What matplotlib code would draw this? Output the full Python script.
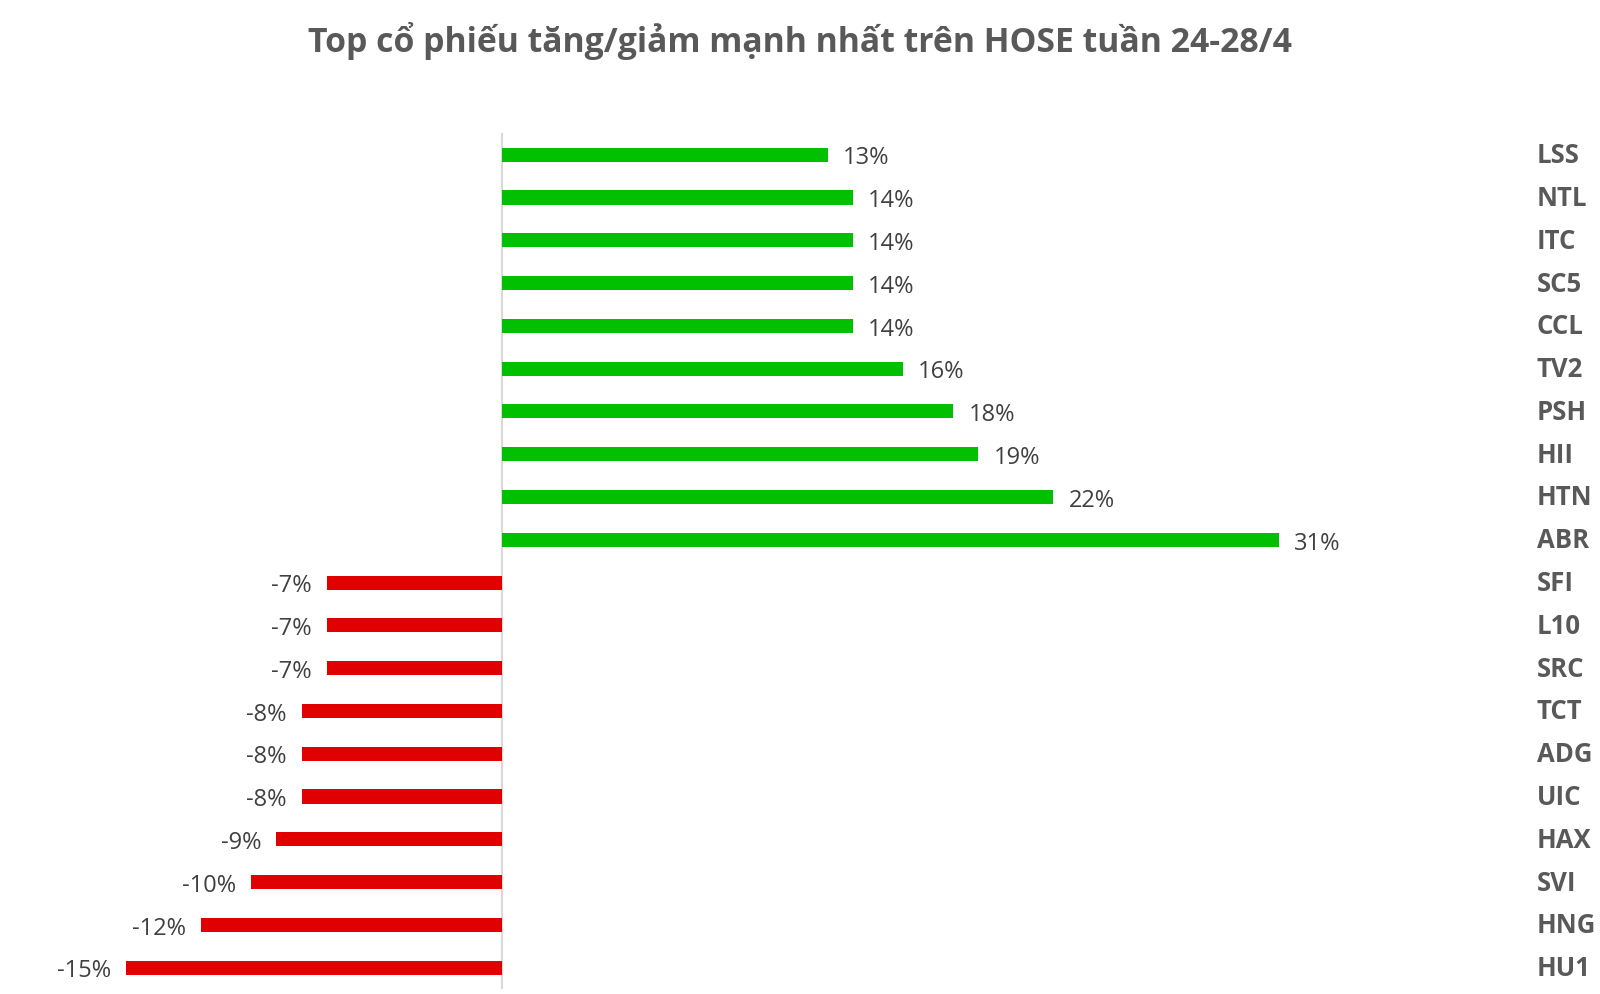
import matplotlib
matplotlib.use("Agg")
from matplotlib import pyplot as plt
import numpy as np

plt.rcParams['font.family'] = ['Open Sans', 'DejaVu Sans']

title = "Top cổ phiếu tăng/giảm mạnh nhất trên HOSE tuần 24-28/4"
tickers = ["LSS", "NTL", "ITC", "SC5", "CCL", "TV2", "PSH", "HII", "HTN", "ABR",
           "SFI", "L10", "SRC", "TCT", "ADG", "UIC", "HAX", "SVI", "HNG", "HU1"]
changes = [13, 14, 14, 14, 14, 16, 18, 19, 22, 31,
           -7, -7, -7, -8, -8, -8, -9, -10, -12, -15]

green = "#00c000"
red = "#e00000"

fig = plt.figure(figsize=(16, 9.95), dpi=100)
ax = fig.add_axes([0, 0.005, 1, 0.86])

y = np.arange(len(tickers))
colors = [green if v > 0 else red for v in changes]
ax.barh(y, changes, height=0.33, color=colors)

# zero line
ax.axvline(0, color="#d9d9d9", lw=1.5, zorder=0)

for yi, v, name in zip(y, changes, tickers):
    if v > 0:
        ax.annotate(f"{v}%", (v, yi), xytext=(11, -2), textcoords="offset points",
                    ha="left", va="center", fontsize=17, color="#404040")
    else:
        ax.annotate(f"{v}%", (v, yi), xytext=(-11, -2), textcoords="offset points",
                    ha="right", va="center", fontsize=17, color="#404040")
    ax.text(0.9606, yi, name, transform=ax.get_yaxis_transform(),
            ha="left", va="center", fontsize=18.5, fontweight="bold", color="#595959")

ax.set_xlim(-20.03, 43.81)
ax.set_ylim(len(tickers) - 0.5, -0.5)
ax.axis("off")

fig.text(0.5, 0.959, title, ha="center", va="center", fontsize=24.3,
         fontweight="bold", color="#595959")

fig.savefig("out.png", dpi=100, facecolor="white")
